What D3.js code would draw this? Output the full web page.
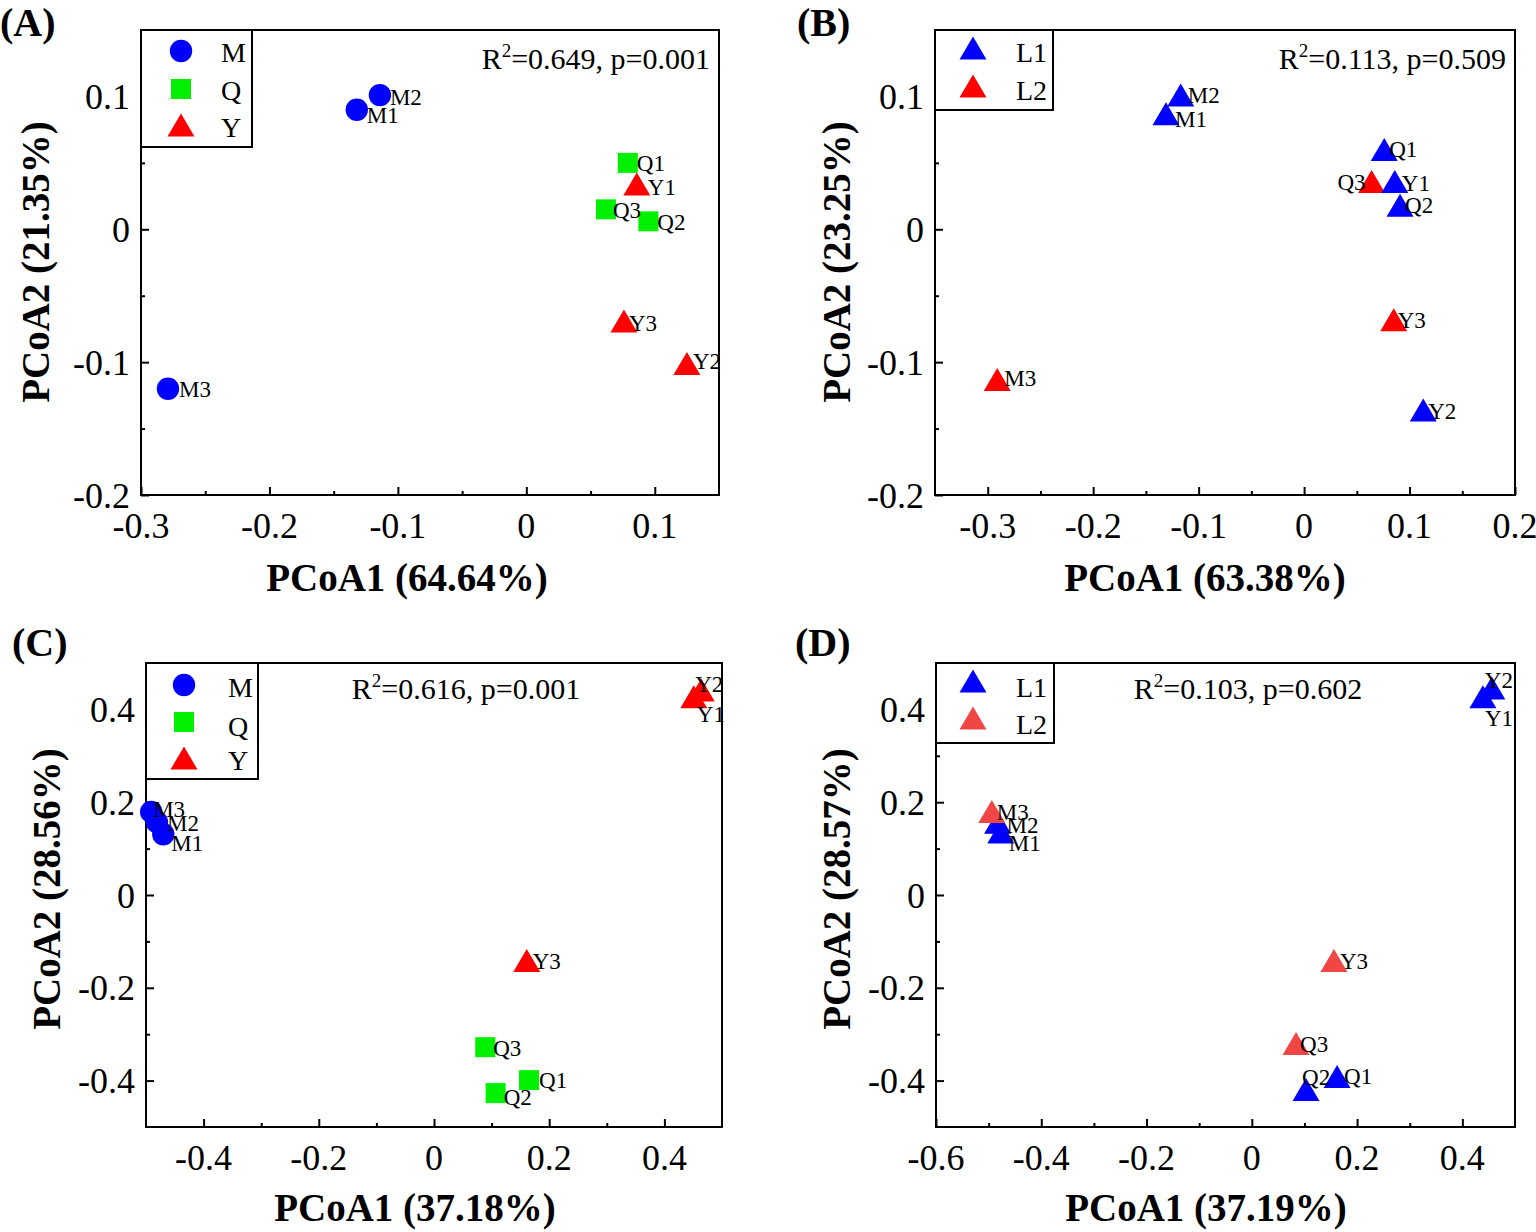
<!DOCTYPE html>
<html><head><meta charset="utf-8">
<script src="https://cdn.jsdelivr.net/npm/d3@7"></script>
<style>
body{margin:0;background:#fff}
svg{display:block}
text{font-family:"Liberation Serif","Times New Roman",Times,serif;fill:#000}
</style>
</head><body>
<svg id="chart" width="1536" height="1232"></svg>
<script>
// ---------- DATA ----------
const samples = ["M1","M2","M3","Q1","Q2","Q3","Y1","Y2","Y3"];
const siteGroups = ["M","M","M","Q","Q","Q","Y","Y","Y"];
const layerGroups = ["L1","L1","L2","L1","L1","L2","L1","L1","L2"];

const pc1A = [-0.132,-0.114,-0.279, 0.079, 0.095, 0.062, 0.086, 0.125, 0.076];
const pc2A = [ 0.090, 0.101,-0.120, 0.050, 0.006, 0.015, 0.034,-0.101,-0.069];

const pc1B = [-0.131,-0.117,-0.291, 0.076, 0.091, 0.064, 0.086, 0.113, 0.085];
const pc2B = [ 0.087, 0.101,-0.113, 0.060, 0.018, 0.036, 0.036,-0.136,-0.068];

const pc1C = [-0.470,-0.481,-0.491, 0.165, 0.107, 0.089, 0.451, 0.464, 0.161];
const pc2C = [ 0.131, 0.157, 0.179,-0.399,-0.427,-0.328, 0.427, 0.442,-0.141];

const pc1D = [-0.477,-0.483,-0.494, 0.162, 0.103, 0.084, 0.439, 0.456, 0.156];
const pc2D = [ 0.136, 0.157, 0.180,-0.391,-0.419,-0.320, 0.427, 0.446,-0.141];

const axisXTitles = ["PCoA1 (64.64%)","PCoA1 (63.38%)","PCoA1 (37.18%)","PCoA1 (37.19%)"];
const axisYTitles = ["PCoA2 (21.35%)","PCoA2 (23.25%)","PCoA2 (28.56%)","PCoA2 (28.57%)"];
const panelTags = ["(A)","(B)","(C)","(D)"];
const statR2 = ["0.649","0.113","0.616","0.103"];
const statP = ["0.001","0.509","0.001","0.602"];

const xTicksA = [-0.3,-0.2,-0.1,0,0.1];
const xMinorA = [-0.25,-0.15,-0.05,0.05];
const yTicksAB = [-0.2,-0.1,0,0.1];
const yMinorAB = [-0.15,-0.05,0.05];
const xTicksB = [-0.3,-0.2,-0.1,0,0.1,0.2];
const xMinorB = [-0.25,-0.15,-0.05,0.05,0.15];
const xTicksC = [-0.4,-0.2,0,0.2,0.4];
const xMinorC = [-0.3,-0.1,0.1,0.3];
const yTicksCD = [-0.4,-0.2,0,0.2,0.4];
const yMinorCD = [-0.3,-0.1,0.1,0.3];
const xTicksD = [-0.6,-0.4,-0.2,0,0.2,0.4];
const xMinorD = [-0.5,-0.3,-0.1,0.1,0.3];

const siteLegend = ["M","Q","Y"];
const layerLegend = ["L1","L2"];

// ---------- STYLE / LAYOUT ----------
const siteStyle = {M:{shape:"circle",color:"#0000ff"},Q:{shape:"square",color:"#00f000"},Y:{shape:"triangle",color:"#ff0000"}};
const layerStyleB = {L1:{shape:"triangle",color:"#0000ff"},L2:{shape:"triangle",color:"#ff0000"}};
const layerStyleD = {L1:{shape:"triangle",color:"#0000ff"},L2:{shape:"triangle",color:"#f04646"}};

// label nudges (dx to label left edge, dy to label vertical centre), anchor
const nudgeA = [[10,5],[10,2],[11,0],[9,0],[9,1],[7,1],[11,3],[6,-3],[5,2]];
const nudgeB = [[9,5],[7,0],[7,-1],[5,-1],[5,0],[-6,0,"end"],[7,1],[5,1],[4,0]];
const nudgeC = [[8,9],[10,1],[2,-3],[10,0],[8,4],[8,1],[3,17],[-6,-6],[6,1]];
const nudgeD = [[8,11],[9,3],[5,0],[7,0],[-4,-12],[4,0],[2,21],[-7,-8],[6,1]];

const panels = [
  {tag:0, left:141, right:719, top:30, bottom:495, xDom:[-0.3,0.15], yDom:[-0.2,0.15],
   pc1:pc1A, pc2:pc2A, groups:siteGroups, styles:siteStyle, legend:siteLegend, nudge:nudgeA,
   xT:xTicksA, xM:xMinorA, yT:yTicksAB, yM:yMinorAB,
   tagPos:[0,22], xTitle:[407,577], yTitle:[35,262], stat:[710,58,"end"],
   leg:{w:111,h:117,mx:40,tx:80,rows:[21,59,95],trows:[22,60,97]}},
  {tag:1, left:935, right:1515, top:30, bottom:495, xDom:[-0.35,0.2], yDom:[-0.2,0.15],
   pc1:pc1B, pc2:pc2B, groups:layerGroups, styles:layerStyleB, legend:layerLegend, nudge:nudgeB,
   xT:xTicksB, xM:xMinorB, yT:yTicksAB, yM:yMinorAB,
   tagPos:[797,22], xTitle:[1205,577], yTitle:[836,262], stat:[1506,58,"end"],
   leg:{w:118,h:80,mx:38,tx:81,rows:[18,56],trows:[22,60]}},
  {tag:2, left:146, right:722, top:663, bottom:1127, xDom:[-0.5,0.5], yDom:[-0.5,0.5],
   pc1:pc1C, pc2:pc2C, groups:siteGroups, styles:siteStyle, legend:siteLegend, nudge:nudgeC,
   xT:xTicksC, xM:xMinorC, yT:yTicksCD, yM:yMinorCD,
   tagPos:[12,642], xTitle:[415,1207], yTitle:[46,889], stat:[466,688,"middle"],
   leg:{w:112,h:116,mx:38,tx:82,rows:[22,59,95],trows:[24,63,97]}},
  {tag:3, left:936, right:1515, top:663, bottom:1127, xDom:[-0.6,0.5], yDom:[-0.5,0.5],
   pc1:pc1D, pc2:pc2D, groups:layerGroups, styles:layerStyleD, legend:layerLegend, nudge:nudgeD,
   xT:xTicksD, xM:xMinorD, yT:yTicksCD, yM:yMinorCD,
   tagPos:[795,642], xTitle:[1206,1207], yTitle:[836,889], stat:[1248,688,"middle"],
   leg:{w:118,h:80,mx:37,tx:80,rows:[18,55],trows:[24,61]}}
];

const FS = {tick:36, title:39, tag:40, legend:28, stat:30, label:23};
const svg = d3.select("#chart");

function shapePath(shape){
  if(shape==="circle") return d3.symbol(d3.symbolCircle, Math.PI*11.2*11.2)();
  if(shape==="square") return "M-10,-10H10V10H-10Z";
  return "M0,-11.5L13.5,11.5L-13.5,11.5Z";
}
const fmt = v => String(+v.toFixed(2));

panels.forEach(p=>{
  const g = svg.append("g");
  const x = d3.scaleLinear().domain(p.xDom).range([p.left,p.right]);
  const y = d3.scaleLinear().domain(p.yDom).range([p.bottom,p.top]);

  // ticks (inward)
  g.append("g").attr("transform",`translate(0,${p.bottom})`)
    .call(d3.axisBottom(x).tickValues(p.xT).tickSize(-8).tickFormat(""))
    .call(a=>a.select(".domain").remove());
  g.append("g").attr("transform",`translate(0,${p.bottom})`)
    .call(d3.axisBottom(x).tickValues(p.xM).tickSize(-4).tickFormat(""))
    .call(a=>a.select(".domain").remove());
  g.append("g").attr("transform",`translate(${p.left},0)`)
    .call(d3.axisLeft(y).tickValues(p.yT).tickSize(-8).tickFormat(""))
    .call(a=>a.select(".domain").remove());
  g.append("g").attr("transform",`translate(${p.left},0)`)
    .call(d3.axisLeft(y).tickValues(p.yM).tickSize(-4).tickFormat(""))
    .call(a=>a.select(".domain").remove());
  g.selectAll(".tick line").attr("stroke","#000").attr("stroke-width",2);

  // tick labels
  g.selectAll(null).data(p.xT).join("text")
    .attr("x",d=>x(d)).attr("y",p.bottom+30).attr("dy","0.35em")
    .attr("text-anchor","middle").attr("font-size",FS.tick).text(fmt);
  g.selectAll(null).data(p.yT).join("text")
    .attr("x",p.left-11).attr("y",d=>y(d)).attr("dy","0.35em")
    .attr("text-anchor","end").attr("font-size",FS.tick).text(fmt);

  // frame
  g.append("rect").attr("x",p.left).attr("y",p.top)
    .attr("width",p.right-p.left).attr("height",p.bottom-p.top)
    .attr("fill","none").attr("stroke","#000").attr("stroke-width",2);

  // points
  const idx = d3.range(samples.length);
  g.selectAll(null).data(idx).join("path")
    .attr("transform",i=>`translate(${x(p.pc1[i])},${y(p.pc2[i])})`)
    .attr("d",i=>shapePath(p.styles[p.groups[i]].shape))
    .attr("fill",i=>p.styles[p.groups[i]].color);
  // point labels
  g.selectAll(null).data(idx).join("text")
    .attr("x",i=>x(p.pc1[i])+p.nudge[i][0])
    .attr("y",i=>y(p.pc2[i])+p.nudge[i][1])
    .attr("dy","0.35em")
    .attr("text-anchor",i=>p.nudge[i][2]||"start")
    .attr("font-size",FS.label).text(i=>samples[i]);

  // legend
  const L = p.leg;
  const lg = g.append("g").attr("transform",`translate(${p.left},${p.top})`);
  lg.append("rect").attr("width",L.w).attr("height",L.h)
    .attr("fill","#fff").attr("stroke","#000").attr("stroke-width",2);
  p.legend.forEach((k,j)=>{
    lg.append("path").attr("transform",`translate(${L.mx},${L.rows[j]})`)
      .attr("d",shapePath(p.styles[k].shape)).attr("fill",p.styles[k].color);
    lg.append("text").attr("x",L.tx).attr("y",L.trows[j]).attr("dy","0.35em")
      .attr("font-size",FS.legend).text(k);
  });

  // stat annotation
  const st = g.append("text").attr("x",p.stat[0]).attr("y",p.stat[1]).attr("dy","0.35em")
    .attr("text-anchor",p.stat[2]).attr("font-size",FS.stat);
  st.append("tspan").text("R");
  st.append("tspan").attr("dy",-12).attr("font-size",19).text("2");
  st.append("tspan").attr("dy",12).text(`=${statR2[p.tag]}, p=${statP[p.tag]}`);

  // titles
  g.append("text").attr("x",p.xTitle[0]).attr("y",p.xTitle[1]).attr("dy","0.35em")
    .attr("text-anchor","middle").attr("font-size",FS.title).attr("font-weight","bold")
    .text(axisXTitles[p.tag]);
  g.append("text").attr("transform",`translate(${p.yTitle[0]},${p.yTitle[1]}) rotate(-90)`)
    .attr("dy","0.35em").attr("text-anchor","middle").attr("font-size",FS.title)
    .attr("font-weight","bold").text(axisYTitles[p.tag]);
  g.append("text").attr("x",p.tagPos[0]).attr("y",p.tagPos[1]).attr("dy","0.35em")
    .attr("font-size",FS.tag).attr("font-weight","bold").text(panelTags[p.tag]);
});
</script>
</body></html>
